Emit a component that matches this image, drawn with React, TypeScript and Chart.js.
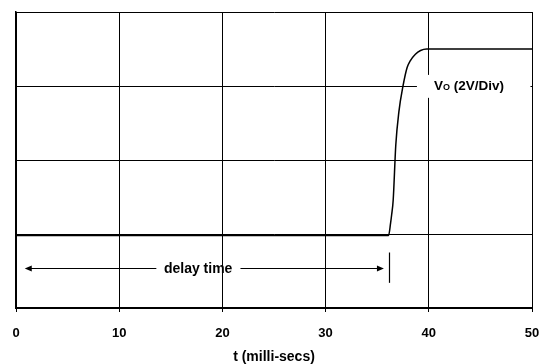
import React, { useEffect, useRef } from "react";
import { Chart, registerables } from "chart.js";

Chart.register(...registerables);

// time in milliseconds
const timeMs = [0, 36.1, 36.3, 36.4, 36.55, 36.8, 37.1, 37.5, 37.9, 38.2, 38.7, 39.2, 39.8, 50];
// output voltage in divisions (2 V/Div)
const voltsDiv = [0.98, 0.98, 1.15, 1.26, 1.46, 2.2, 2.65, 3.0, 3.25, 3.34, 3.43, 3.48, 3.5, 3.5];
const xTickValues = [0, 10, 20, 30, 40, 50];
const xTitle = "t (milli-secs)";
const delayLabel = "delay time";
const delayEnd = 36.1;
const voMain = "V";
const voSub = "O";
const voRest = " (2V/Div)";

const FONT = "'Liberation Sans', Arial, sans-serif";

const annotPlugin = {
  id: "annot",
  beforeDatasetsDraw(chart: any) {
    const { ctx, scales } = chart;
    const x = scales.x;
    const y = scales.y;
    ctx.save();
    // white box behind Vo label
    const bx0 = x.getPixelForValue(38.85);
    const bx1 = x.getPixelForValue(49.85);
    const by0 = y.getPixelForValue(3.15);
    const by1 = y.getPixelForValue(2.84);
    ctx.fillStyle = "#ffffff";
    ctx.fillRect(bx0, by0, bx1 - bx0, by1 - by0);
    // label
    const ty = y.getPixelForValue(3.0);
    let tx = x.getPixelForValue(40.5);
    ctx.fillStyle = "#000000";
    ctx.textBaseline = "middle";
    ctx.textAlign = "left";
    ctx.font = `bold 13.5px ${FONT}`;
    ctx.fillText(voMain, tx, ty);
    tx += ctx.measureText(voMain).width;
    ctx.font = `bold 9px ${FONT}`;
    ctx.fillText(voSub, tx, ty + 2);
    tx += ctx.measureText(voSub).width;
    ctx.font = `bold 13.5px ${FONT}`;
    ctx.fillText(voRest, tx, ty);

    // delay arrow
    const ay = Math.round(y.getPixelForValue(0.545)) + 0.5;
    const lx = x.getPixelForValue(0.85);
    const rx = x.getPixelForValue(35.65);
    const gx0 = x.getPixelForValue(13.6);
    const gx1 = x.getPixelForValue(21.75);
    ctx.strokeStyle = "#000000";
    ctx.lineWidth = 1;
    ctx.beginPath();
    ctx.moveTo(lx + 5, ay);
    ctx.lineTo(gx0, ay);
    ctx.moveTo(gx1, ay);
    ctx.lineTo(rx - 5, ay);
    ctx.stroke();
    ctx.beginPath();
    ctx.moveTo(lx, ay);
    ctx.lineTo(lx + 7, ay - 3);
    ctx.lineTo(lx + 7, ay + 3);
    ctx.closePath();
    ctx.fill();
    ctx.beginPath();
    ctx.moveTo(rx, ay);
    ctx.lineTo(rx - 7, ay - 3);
    ctx.lineTo(rx - 7, ay + 3);
    ctx.closePath();
    ctx.fill();
    ctx.font = `bold 14px ${FONT}`;
    ctx.textAlign = "center";
    ctx.fillText(delayLabel, x.getPixelForValue(17.65), ay + 1);

    // delay end marker
    const mx = Math.round(x.getPixelForValue(delayEnd)) + 0.5;
    ctx.lineWidth = 1.2;
    ctx.beginPath();
    ctx.moveTo(mx, y.getPixelForValue(0.75));
    ctx.lineTo(mx, y.getPixelForValue(0.34));
    ctx.stroke();
    ctx.restore();
  },
};

export default function App() {
  const ref = useRef<HTMLCanvasElement | null>(null);
  useEffect(() => {
    if (!ref.current) return;
    const chart = new Chart(ref.current, {
      type: "line",
      data: {
        datasets: [
          {
            data: timeMs.map((t, i) => ({ x: t, y: voltsDiv[i] })),
            borderColor: "#000000",
            borderWidth: 1.5,
            pointRadius: 0,
            tension: 0.3,
            cubicInterpolationMode: "monotone",
            fill: false,
          },
        ],
      },
      options: {
        animation: false,
        responsive: false,
        maintainAspectRatio: false,
        layout: { padding: { left: 16, right: 8, top: 12, bottom: 0 } },
        plugins: { legend: { display: false }, tooltip: { enabled: false } },
        scales: {
          x: {
            type: "linear",
            min: 0,
            max: 50,
            afterBuildTicks: (s: any) => {
              s.ticks = xTickValues.map((v) => ({ value: v }));
            },
            afterFit: (s: any) => {
              s.height = 56;
              s.paddingLeft = 0;
              s.paddingRight = 0;
            },
            grid: { color: "#000000", lineWidth: 1, tickLength: 4, drawTicks: true },
            border: { display: true, color: "#000000", width: 2 },
            ticks: {
              color: "#000000",
              padding: 14,
              maxRotation: 0,
              font: { family: FONT, size: 13, weight: "bold" },
            },
            title: {
              display: true,
              text: xTitle,
              color: "#000000",
              padding: { top: 2, bottom: 0 },
              font: { family: FONT, size: 14, weight: "bold", lineHeight: 1.0 },
            },
          },
          y: {
            type: "linear",
            min: 0,
            max: 4,
            ticks: { display: false, stepSize: 1 },
            afterFit: (s: any) => {
              s.width = 0;
              s.paddingTop = 0;
              s.paddingBottom = 0;
            },
            grid: { color: "#000000", lineWidth: 1, drawTicks: false },
            border: { display: true, color: "#000000", width: 1.5 },
          },
        },
      },
      plugins: [annotPlugin],
    } as any);
    return () => chart.destroy();
  }, []);
  return (
    <div style={{ position: "fixed", left: 0, top: 0, width: 540, height: 364, background: "#fff" }}>
      <canvas ref={ref} width={540} height={364} style={{ width: 540, height: 364, display: "block" }} />
    </div>
  );
}
